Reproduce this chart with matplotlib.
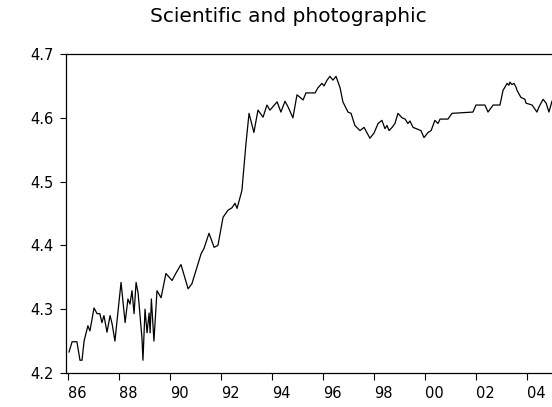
import numpy as np
import matplotlib
matplotlib.use('Agg')
import matplotlib.pyplot as plt

# series (decimal year, log level)
year = [1986.04, 1986.16, 1986.35, 1986.47, 1986.55, 1986.63, 1986.78, 1986.86,
        1987.02, 1987.14, 1987.25, 1987.33, 1987.41, 1987.53, 1987.65, 1987.73,
        1987.84, 1988.08, 1988.24, 1988.35, 1988.43, 1988.51, 1988.59, 1988.67,
        1988.75, 1988.90, 1988.94, 1989.02, 1989.10, 1989.18, 1989.22, 1989.27,
        1989.37, 1989.49, 1989.65, 1989.84, 1990.08, 1990.24, 1990.43, 1990.71,
        1990.86, 1991.22, 1991.33, 1991.53, 1991.73, 1991.88, 1992.08, 1992.27,
        1992.43, 1992.55, 1992.63, 1992.82, 1992.98, 1993.10, 1993.29, 1993.45,
        1993.65, 1993.80, 1993.92, 1994.20, 1994.35, 1994.51, 1994.63, 1994.82,
        1994.98, 1995.22, 1995.33, 1995.69, 1995.80, 1995.96, 1996.04, 1996.16,
        1996.27, 1996.39, 1996.51, 1996.67, 1996.78, 1996.98, 1997.10, 1997.25,
        1997.45, 1997.61, 1997.84, 1998.00, 1998.16, 1998.31, 1998.43, 1998.51,
        1998.59, 1998.71, 1998.82, 1998.94, 1999.10, 1999.22, 1999.33, 1999.41,
        1999.53, 1999.65, 1999.84, 1999.96, 2000.12, 2000.24, 2000.39, 2000.51,
        2000.59, 2000.90, 2001.06, 2001.88, 2002.00, 2002.35, 2002.47, 2002.67,
        2002.94, 2003.06, 2003.22, 2003.29, 2003.33, 2003.41, 2003.49, 2003.57,
        2003.61, 2003.76, 2003.92, 2003.96, 2004.20, 2004.39, 2004.47, 2004.63,
        2004.75, 2004.86, 2004.98]
value = [4.233, 4.249, 4.249, 4.220, 4.220, 4.250, 4.274, 4.266,
         4.302, 4.293, 4.293, 4.279, 4.290, 4.264, 4.290, 4.277,
         4.250, 4.342, 4.279, 4.316, 4.308, 4.329, 4.293, 4.342,
         4.325, 4.255, 4.220, 4.300, 4.263, 4.294, 4.263, 4.316,
         4.250, 4.329, 4.318, 4.356, 4.345, 4.357, 4.370, 4.332,
         4.340, 4.387, 4.395, 4.419, 4.397, 4.400, 4.444, 4.455,
         4.459, 4.466, 4.458, 4.486, 4.560, 4.607, 4.577, 4.612,
         4.601, 4.620, 4.612, 4.625, 4.609, 4.626, 4.617, 4.600,
         4.636, 4.628, 4.639, 4.639, 4.647, 4.654, 4.650, 4.659,
         4.665, 4.659, 4.665, 4.647, 4.625, 4.609, 4.607, 4.588,
         4.580, 4.585, 4.568, 4.576, 4.591, 4.596, 4.583, 4.588,
         4.580, 4.585, 4.591, 4.607, 4.600, 4.598, 4.591, 4.595,
         4.585, 4.583, 4.580, 4.569, 4.577, 4.580, 4.596, 4.591,
         4.598, 4.598, 4.607, 4.609, 4.620, 4.620, 4.609, 4.620,
         4.620, 4.643, 4.654, 4.651, 4.656, 4.652, 4.654, 4.648,
         4.643, 4.632, 4.629, 4.623, 4.620, 4.609, 4.617, 4.629,
         4.623, 4.609, 4.626]

xticks = [1986, 1988, 1990, 1992, 1994, 1996, 1998, 2000, 2002, 2004]
xlabels = ['86', '88', '90', '92', '94', '96', '98', '00', '02', '04']
yticks = [4.2, 4.3, 4.4, 4.5, 4.6, 4.7]

plt.rcParams['font.family'] = ['DejaVu Sans']

fig = plt.figure(figsize=(5.52, 4.07), dpi=100)
ax = fig.add_axes([66/552, 34/407, 486/552, 319/407])
ax.plot(year, value, color='black', linewidth=0.9)

ax.set_xlim(1986 - 2/25.5, 1986 + 484/25.5)
ax.set_ylim(4.2, 4.7)
ax.set_yticks(yticks)
ax.set_yticklabels(['%.1f' % t for t in yticks])
ax.set_xticks(xticks)
ax.set_xticklabels(xlabels, ha='left')
ax.tick_params(axis='y', direction='out', length=4, width=0.8, pad=5, labelsize=10.5)
ax.tick_params(axis='x', direction='out', length=5, width=0.8, pad=4, labelsize=10.5)
ax.spines['right'].set_visible(False)
for s in ['left', 'bottom', 'top']:
    ax.spines[s].set_linewidth(0.9)

fig.text(288/552, 1 - 16/407, 'Scientific and photographic', ha='center', va='center', fontsize=14.5)

fig.savefig('out.png', dpi=100)
